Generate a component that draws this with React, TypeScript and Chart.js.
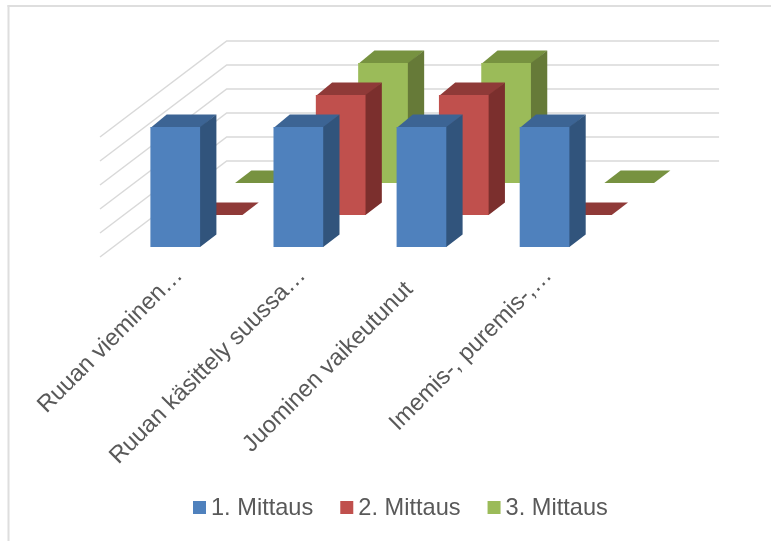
import React, { useEffect, useRef } from "react";
import { BarController, Chart, registerables } from "chart.js";

const categories = [
  "Ruuan vieminen…",
  "Ruuan käsittely suussa…",
  "Juominen vaikeutunut",
  "Imemis-, puremis-,…",
];
const firstRound = [5, 5, 5, 5];
const secondRound = [0, 5, 5, 0];
const thirdRound = [0, 5, 5, 0];
const seriesNames = ["1. Mittaus", "2. Mittaus", "3. Mittaus"];
const frontColors = ["#4F81BD", "#C0504D", "#9BBB59"];
const topColors = ["#3C6494", "#8F3A38", "#779240"];
const sideColors = ["#31547C", "#7B2F2D", "#667A38"];
const valueTicks = { min: 0, max: 5, stepSize: 1 };

// Oblique projection: how far the floor recedes, per slot and per bar.
const FLOOR_DX = 126.7;
const FLOOR_DY = -96;
const SLOT_DX = 42.33;
const SLOT_DY = -32;
const BOX_DX = 16.3;
const BOX_DY = -12.5;
const FIRST_DX = 13.7;
const FIRST_DY = -10;

// The un-truncated category label sits further down its diagonal than the others.
const UNTRUNCATED_LABEL = 2;
const UNTRUNCATED_SHIFT_X = 16;
const UNTRUNCATED_SHIFT_Y = 14;

const GRID = "#D9D9D9";
const TEXT = "#595959";
const FONT = "'Liberation Sans', Arial, sans-serif";
const FONT_SIZE = 23.6;

function poly(ctx: CanvasRenderingContext2D, fill: string, pts: number[][]) {
  ctx.fillStyle = fill;
  ctx.beginPath();
  pts.forEach(([x, y], i) => (i ? ctx.lineTo(x, y) : ctx.moveTo(x, y)));
  ctx.closePath();
  ctx.fill();
}

// Bar controller that paints each bar as a box, set back by its series slot.
class Box3DController extends BarController {
  static id = "box3d";

  draw() {
    const ctx = (this as any)._ctx as CanvasRenderingContext2D;
    const slot = this.index;
    const ds = this.getDataset() as any;
    const ox = FIRST_DX + slot * SLOT_DX;
    const oy = FIRST_DY + slot * SLOT_DY;
    for (const el of this.getMeta().data as any[]) {
      const l = el.x - el.width / 2 + ox;
      const r = el.x + el.width / 2 + ox;
      const t = el.y + oy;
      const b = el.base + oy;
      const solid = b - t > 0.5;
      ctx.save();
      // Side and top run one pixel under the front so no seam shows between faces.
      const under = solid ? 1 : 0;
      poly(ctx, ds.topColor, [[l, t + under], [r, t + under], [r + BOX_DX, t + BOX_DY], [l + BOX_DX, t + BOX_DY]]);
      if (solid) {
        poly(ctx, ds.sideColor, [[r - 1, t], [r, t], [r + BOX_DX, t + BOX_DY], [r + BOX_DX, b + BOX_DY], [r, b], [r - 1, b]]);
        poly(ctx, ds.backgroundColor, [[l, t], [r, t], [r, b], [l, b]]);
      }
      ctx.restore();
    }
  }
}

Chart.register(...registerables, Box3DController);

// Side wall and back wall rules at every value tick.
const wallGrid = {
  id: "wallGrid",
  beforeDatasetsDraw(chart: any) {
    const { ctx, chartArea, scales } = chart;
    ctx.save();
    ctx.strokeStyle = GRID;
    ctx.lineWidth = 1.5;
    for (const tick of scales.y.ticks) {
      const y = scales.y.getPixelForValue(tick.value);
      ctx.beginPath();
      ctx.moveTo(chartArea.left, y);
      ctx.lineTo(chartArea.left + FLOOR_DX, y + FLOOR_DY);
      ctx.lineTo(chartArea.right + FLOOR_DX, y + FLOOR_DY);
      ctx.stroke();
    }
    ctx.restore();
  },
};

// White page, a frame on the top and left edges, and the label nudge.
const frame = {
  id: "frame",
  beforeDraw(chart: any) {
    const { ctx, width, height, chartArea, scales } = chart;
    ctx.save();
    ctx.fillStyle = "#FFFFFF";
    ctx.fillRect(0, 0, width, height);
    ctx.fillStyle = "#DEDEDE";
    ctx.fillRect(7.5, 5, width - 7.5, 2);
    ctx.fillRect(7.5, 5, 2, height - 5);
    ctx.restore();
    const item = scales.x.getLabelItems(chartArea)[UNTRUNCATED_LABEL];
    if (item) {
      const [x, y] = item.options.translation;
      item.options.translation = [x - UNTRUNCATED_SHIFT_X, y + UNTRUNCATED_SHIFT_Y];
    }
  },
};

// Legend row with tight square-to-text spacing.
const legendRow = {
  id: "legendRow",
  afterDraw(chart: any) {
    const { ctx } = chart;
    ctx.save();
    ctx.font = `${FONT_SIZE}px ${FONT}`;
    ctx.textBaseline = "alphabetic";
    ctx.textAlign = "left";
    let x = 193;
    chart.data.datasets.forEach((ds: any) => {
      ctx.fillStyle = ds.backgroundColor;
      ctx.fillRect(x, 501, 13, 13);
      ctx.fillStyle = TEXT;
      ctx.fillText(ds.label, x + 18, 515);
      x += 18 + ctx.measureText(ds.label).width + 27;
    });
    ctx.restore();
  },
};

export default function App() {
  const ref = useRef<HTMLCanvasElement | null>(null);

  useEffect(() => {
    const rounds = [firstRound, secondRound, thirdRound];
    const chart = new Chart(ref.current as HTMLCanvasElement, {
      type: "box3d" as any,
      data: {
        labels: categories,
        datasets: rounds.map((data, i) => ({
          label: seriesNames[i],
          data,
          backgroundColor: frontColors[i],
          topColor: topColors[i],
          sideColor: sideColors[i],
          grouped: false,
          categoryPercentage: 1,
          barPercentage: 49.7 / 123.1,
          clip: false,
        })) as any,
      },
      plugins: [frame, wallGrid, legendRow],
      options: {
        animation: false,
        responsive: false,
        events: [],
        layout: { padding: { left: 100, right: 178.6, top: 137, bottom: 0 } },
        plugins: { legend: { display: false }, tooltip: { enabled: false } },
        scales: {
          x: {
            type: "category",
            position: "bottom",
            grid: { display: false, drawTicks: false },
            border: { display: false },
            afterFit: (s: any) => {
              s.height = 284;
            },
            ticks: {
              autoSkip: false,
              minRotation: 45,
              maxRotation: 45,
              labelOffset: 17.5,
              padding: 5,
              color: TEXT,
              font: { family: FONT, size: FONT_SIZE },
            },
          },
          y: { type: "linear", display: false, ...valueTicks, ticks: { stepSize: valueTicks.stepSize } },
        },
      } as any,
    });
    return () => chart.destroy();
  }, []);

  return (
    <div style={{ position: "fixed", left: 0, top: 0, width: 771, height: 541 }}>
      <canvas ref={ref} width={771} height={541} style={{ display: "block" }} />
    </div>
  );
}
